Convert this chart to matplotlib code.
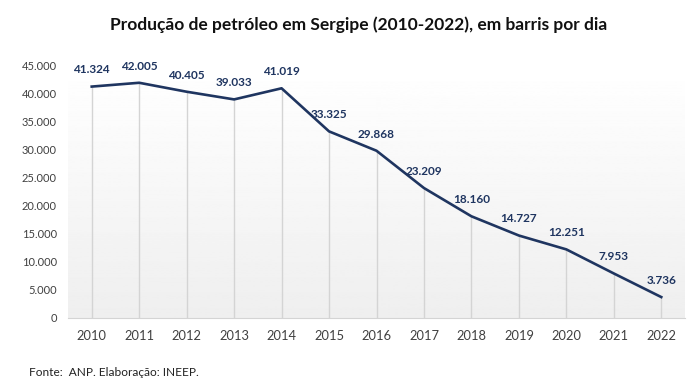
import numpy as np
import matplotlib
matplotlib.use('Agg')
import matplotlib.pyplot as plt

# Dados de produção (barris por dia)
anos = ['2010', '2011', '2012', '2013', '2014', '2015', '2016',
        '2017', '2018', '2019', '2020', '2021', '2022']
producao = [41324, 42005, 40405, 39033, 41019, 33325, 29868,
            23209, 18160, 14727, 12251, 7953, 3736]
rotulos = ['41.324', '42.005', '40.405', '39.033', '41.019', '33.325', '29.868',
           '23.209', '18.160', '14.727', '12.251', '7.953', '3.736']
yticks = [0, 5000, 10000, 15000, 20000, 25000, 30000, 35000, 40000, 45000]
ytick_labels = ['0', '5.000', '10.000', '15.000', '20.000', '25.000',
                '30.000', '35.000', '40.000', '45.000']

plt.rcParams['font.family'] = ['Lato', 'DejaVu Sans']

fig = plt.figure(figsize=(6.99, 3.89), dpi=100)
ax = fig.add_axes([68 / 699, 1 - 318 / 389, 617 / 699, 252 / 389])

x = np.arange(len(anos))
cor = '#1f3560'

# Fundo com degradê
grad = np.linspace(1.0, 0.935, 256).reshape(-1, 1)
ax.imshow(grad, extent=[-0.5, 12.5, 0, 45000], aspect='auto', cmap='gray',
          vmin=0, vmax=1, zorder=0, origin='upper')

# Linhas verticais até o eixo
ax.vlines(x, 0, producao, color='#d4d4d4', linewidth=1, zorder=1)

ax.plot(x, producao, color=cor, linewidth=1.9, zorder=3)

for xi, v, r in zip(x, producao, rotulos):
    ax.annotate(r, (xi, v), xytext=(0, 8), textcoords='offset points',
                ha='center', va='bottom', fontsize=8.5, fontweight='bold',
                color=cor, zorder=4)

ax.set_xlim(-0.5, 12.5)
ax.set_ylim(0, 45000)
ax.set_xticks(x)
ax.set_xticklabels(anos)
ax.set_yticks(yticks)
ax.set_yticklabels(ytick_labels)
ax.tick_params(axis='both', length=0, colors='#404040')
ax.tick_params(axis='x', pad=9, labelsize=9.3)
ax.tick_params(axis='y', pad=8, labelsize=8)

for s in ['top', 'right', 'left']:
    ax.spines[s].set_visible(False)
ax.spines['bottom'].set_color('#d4d4d4')

fig.text(359 / 699, 1 - 25 / 389, 'Produção de petróleo em Sergipe (2010-2022), em barris por dia',
         ha='center', va='center', fontsize=12.5, fontweight='bold', color='#111111')
fig.text(29 / 699, 1 - 373 / 389, 'Fonte:  ANP. Elaboração: INEEP.',
         ha='left', va='center', fontsize=8.6, color='#222222')

fig.savefig('out.png', dpi=100)
